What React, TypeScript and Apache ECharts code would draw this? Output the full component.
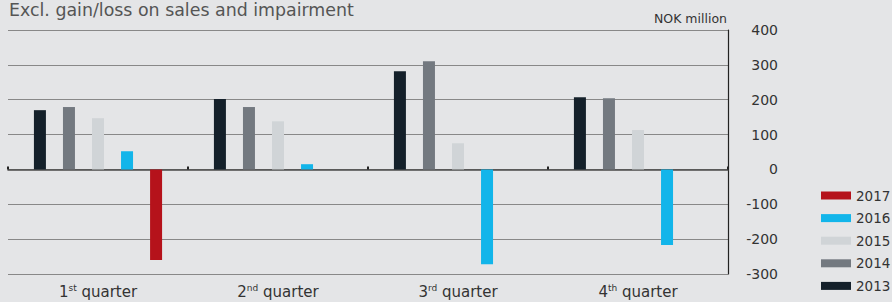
import React, { useEffect, useRef } from 'react';
import * as echarts from 'echarts';

const quarterNumbers = ['1', '2', '3', '4'];
const quarterSuffixes = ['st', 'nd', 'rd', 'th'];
const categories = quarterNumbers.map((n, i) => `${n}${quarterSuffixes[i]} quarter`);

const years = ['2013', '2014', '2015', '2016', '2017'];
const values2013 = [170, 202, 282, 207];
const values2014 = [179, 179, 310, 204];
const values2015 = [147, 138, 75, 113];
const values2016 = [52, 15, -272, -217];
const values2017: (number | null)[] = [-260, null, null, null];
const yTickValues = [-300, -200, -100, 0, 100, 200, 300, 400];

const colors: Record<string, string> = {
  '2013': '#14202a',
  '2014': '#737980',
  '2015': '#d0d4d7',
  '2016': '#12b5ea',
  '2017': '#b5121b',
};

const seriesValues: Record<string, (number | null)[]> = {
  '2013': values2013,
  '2014': values2014,
  '2015': values2015,
  '2016': values2016,
  '2017': values2017,
};

const FONT = '"DejaVu Sans", sans-serif';

export default function App() {
  const ref = useRef<HTMLDivElement>(null);

  useEffect(() => {
    if (!ref.current) return;
    const chart = echarts.init(ref.current, null, { renderer: 'svg' });
    chart.setOption({
      animation: false,
      backgroundColor: '#e4e5e7',
      textStyle: { fontFamily: FONT },
      title: {
        text: 'Excl. gain/loss on sales and impairment',
        left: 9,
        top: 1,
        padding: 0,
        textStyle: { fontSize: 17.4, fontWeight: 'normal', color: '#555', fontFamily: FONT },
      },
      graphic: [
        {
          type: 'text',
          right: 892 - 727,
          top: 12,
          style: { text: 'NOK million', fontSize: 12.5, fill: '#333', fontFamily: FONT },
        },
      ],
      legend: {
        orient: 'vertical',
        left: 816,
        top: 183,
        itemWidth: 30,
        itemHeight: 8,
        itemGap: 7.6,
        icon: 'rect',
        data: [...years].reverse(),
        textStyle: { fontSize: 13.5, color: '#333', lineHeight: 15, fontFamily: FONT },
      },
      grid: { left: 8, right: 164, top: 30, bottom: 28 },
      xAxis: [
        {
          type: 'category',
          data: categories,
          position: 'bottom',
          axisLine: { show: false, onZero: false },
          axisTick: { show: false },
          splitLine: { show: false },
          axisLabel: {
            interval: 0,
            margin: 9,
            formatter: (_v: string, idx: number) =>
              `{n|${quarterNumbers[idx]}}{s|${quarterSuffixes[idx]}}{n| quarter}`,
            rich: {
              n: { fontSize: 15, color: '#333', fontFamily: FONT, lineHeight: 17 },
              s: { fontSize: 9, color: '#333', fontFamily: FONT, lineHeight: 10, verticalAlign: 'top' },
            },
          },
        },
        {
          type: 'category',
          data: categories,
          position: 'bottom',
          axisLine: { show: true, onZero: true, lineStyle: { color: '#4a4a4a', width: 1.5 } },
          axisTick: { show: true, inside: true, length: 3, interval: 0, lineStyle: { color: '#222', width: 2 } },
          axisLabel: { show: false },
          splitLine: { show: false },
        },
      ],
      yAxis: {
        type: 'value',
        position: 'right',
        min: yTickValues[0],
        max: yTickValues[yTickValues.length - 1],
        interval: 100,
        axisLine: { show: true, lineStyle: { color: '#222', width: 1.2 } },
        axisTick: { show: false },
        axisLabel: { align: 'right', margin: 50, fontSize: 14, color: '#333', fontFamily: FONT },
        splitLine: { show: true, lineStyle: { color: '#888', width: 1 } },
      },
      series: years.map((y) => ({
        name: y,
        type: 'bar',
        xAxisIndex: 0,
        data: seriesValues[y],
        barWidth: 12,
        barGap: '142%',
        itemStyle: { color: colors[y] },
      })),
    });
    return () => chart.dispose();
  }, []);

  return (
    <div
      ref={ref}
      style={{ position: 'fixed', left: 0, top: 0, width: 892, height: 302 }}
    />
  );
}
